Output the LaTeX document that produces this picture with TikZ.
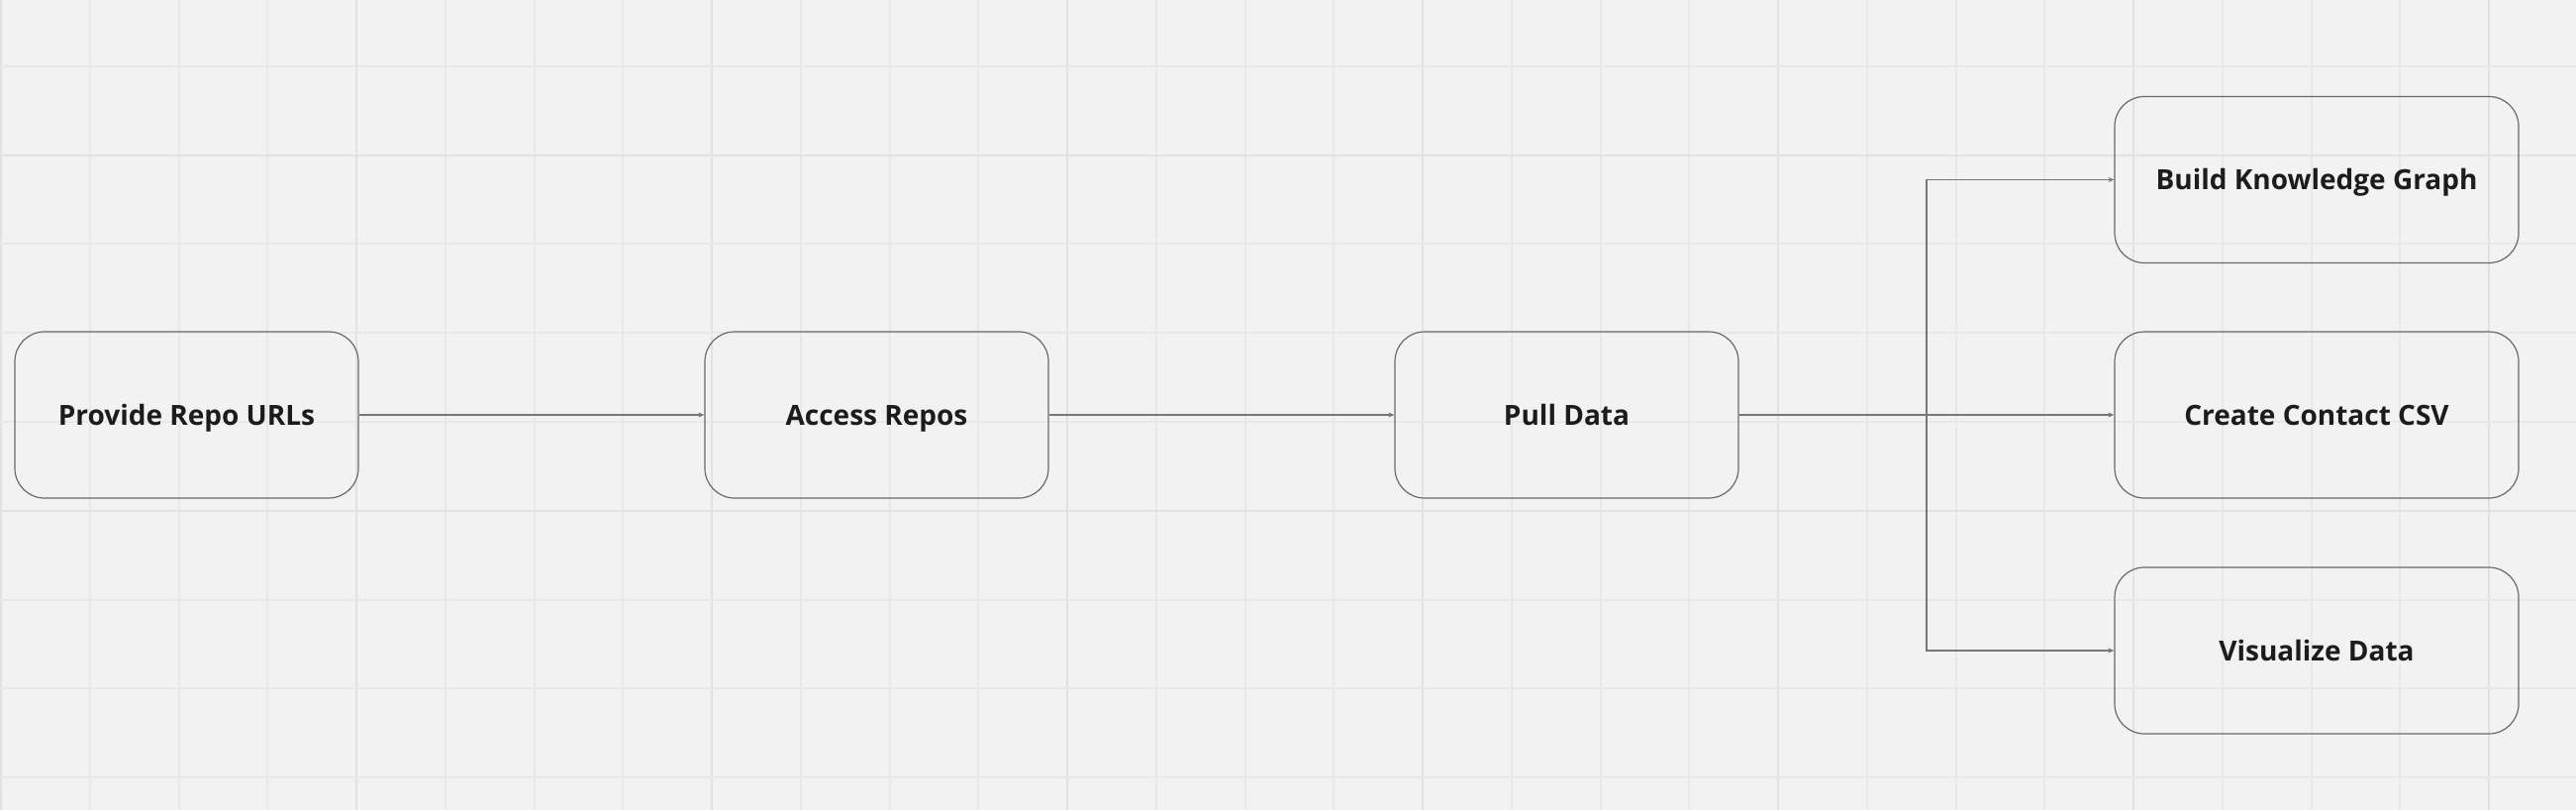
\documentclass[tikz,border=0pt]{standalone}
\usepackage{fontspec}
\setmainfont{Open Sans}
\usetikzlibrary{arrows.meta}
\definecolor{bg}{HTML}{F2F2F2}
\definecolor{gridminor}{HTML}{E8E8E8}
\definecolor{gridmajor}{HTML}{E2E2E2}
\definecolor{boxline}{HTML}{6A6A6A}
\definecolor{connc}{HTML}{777777}
\definecolor{txt}{HTML}{1C1C1C}
\begin{document}
\begin{tikzpicture}[x=1pt,y=-1pt,
  stepbox/.style={draw=boxline, line width=1.2pt, rounded corners=30pt,
    minimum width=347pt, minimum height=168pt, inner sep=0pt,
    text height=21pt, text depth=0pt,
    font=\fontsize{28}{34}\selectfont\bfseries, text=txt},
  widebox/.style={stepbox, minimum width=408pt},
  connector/.style={draw=connc, line width=1.2pt, -{Stealth[length=6pt,width=5pt]}},
  gridln/.style={line width=2pt}]
\fill[bg] (0,0) rectangle (2602,818);
\useasboundingbox (0,0) rectangle (2602,818);
% grid
\foreach \i in {0,...,29}{
  \pgfmathtruncatemacro{\m}{mod(\i,4)}
  \ifnum\m=0
    \draw[gridln, draw=gridmajor] ({1+89.75*\i},0) -- ({1+89.75*\i},818);
  \else
    \draw[gridln, draw=gridminor] ({1+89.75*\i},0) -- ({1+89.75*\i},818);
  \fi
}
\foreach \k in {0,...,8}{
  \pgfmathtruncatemacro{\m}{mod(\k,4)}
  \ifnum\m=1
    \draw[gridln, draw=gridmajor] (0,{67+89.75*\k}) -- (2602,{67+89.75*\k});
  \else
    \draw[gridln, draw=gridminor] (0,{67+89.75*\k}) -- (2602,{67+89.75*\k});
  \fi
}
% nodes
\node[stepbox] (urls) at (188.5,419) {Provide Repo URLs};
\node[stepbox] (access) at (885.5,419) {Access Repos};
\node[stepbox] (pull) at (1582.5,419) {Pull Data};
\node[widebox] (kg) at (2340,181.5) {Build Knowledge Graph};
\node[widebox] (csv) at (2340,419) {Create Contact CSV};
\node[widebox] (viz) at (2340,657) {Visualize Data};
\coordinate (split) at (1946,419);
% connectors
\draw[connector] (urls) -- (access);
\draw[connector] (access) -- (pull);
\draw[connector] (pull.east) -- (split) |- (kg.west);
\draw[connector] (pull.east) -- (csv.west);
\draw[connector] (pull.east) -- (split) |- (viz.west);
\end{tikzpicture}
\end{document}
